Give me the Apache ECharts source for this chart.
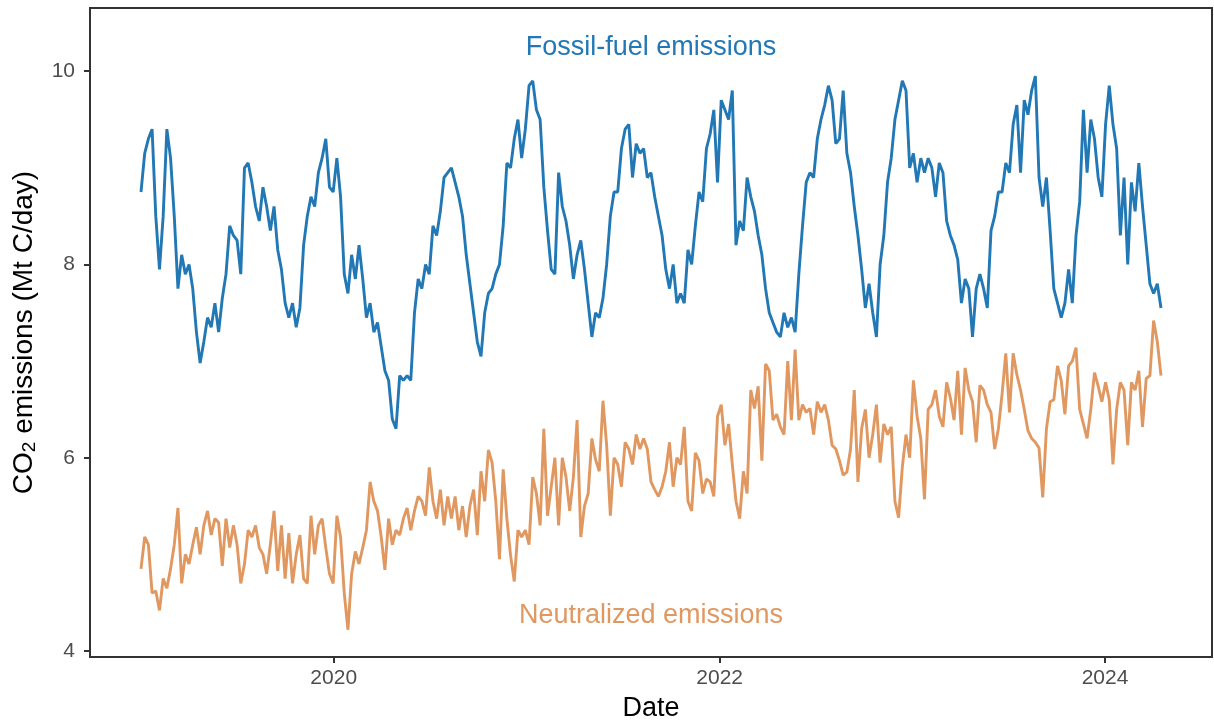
<!DOCTYPE html>
<html>
<head>
<meta charset="utf-8">
<title>CO2 emissions</title>
<script src="https://cdn.jsdelivr.net/npm/echarts@6/dist/echarts.min.js"></script>
<style>
  html, body { margin: 0; padding: 0; background: #fff; }
  #chart { width: 1214px; height: 727px; }
</style>
</head>
<body>
<div id="chart"></div>
<script>
// weekly readings, first one on 2019-01-01
const startDate = [2019, 0, 1]
const stepDays = 7

// Mt C/day
const fossilFuel = [
  8.75, 9.15, 9.3, 9.4, 8.5, 7.95, 8.5, 9.4, 9.1, 8.5,
  7.75, 8.1, 7.9, 8.0, 7.75, 7.3, 6.98, 7.2, 7.45, 7.35,
  7.6, 7.3, 7.65, 7.9, 8.4, 8.3, 8.25, 7.9, 9.0, 9.05,
  8.85, 8.6, 8.45, 8.8, 8.6, 8.35, 8.6, 8.15, 7.95, 7.6,
  7.45, 7.6, 7.35, 7.55, 8.2, 8.5, 8.7, 8.6, 8.95, 9.1,
  9.3, 8.8, 8.75, 9.1, 8.7, 7.9, 7.7, 8.1, 7.85, 8.2,
  7.85, 7.45, 7.6, 7.3, 7.4, 7.15, 6.9, 6.8, 6.4, 6.3,
  6.85, 6.8, 6.85, 6.8, 7.5, 7.85, 7.75, 8.0, 7.9, 8.4,
  8.3, 8.55, 8.9, 8.95, 9.0, 8.85, 8.7, 8.5, 8.1, 7.8,
  7.5, 7.2, 7.05, 7.5, 7.7, 7.75, 7.9, 8.0, 8.4, 9.05,
  9.0, 9.3, 9.5, 9.1, 9.4, 9.85, 9.9, 9.6, 9.5, 8.8,
  8.35, 7.95, 7.9, 8.95, 8.6, 8.45, 8.2, 7.85, 8.1, 8.25,
  7.95, 7.6, 7.25, 7.5, 7.45, 7.65, 8.0, 8.5, 8.75, 8.75,
  9.2, 9.4, 9.45, 8.9, 9.25, 9.15, 9.2, 8.9, 8.95, 8.7,
  8.5, 8.3, 7.95, 7.75, 8.0, 7.6, 7.7, 7.6, 8.15, 8.0,
  8.4, 8.75, 8.65, 9.2, 9.35, 9.6, 8.85, 9.7, 9.6, 9.5,
  9.8, 8.2, 8.45, 8.35, 8.9, 8.7, 8.55, 8.3, 8.1, 7.75,
  7.5, 7.4, 7.3, 7.25, 7.5, 7.35, 7.45, 7.3, 7.9, 8.4,
  8.85, 8.95, 8.9, 9.3, 9.5, 9.65, 9.85, 9.7, 9.25, 9.3,
  9.8, 9.15, 8.95, 8.6, 8.3, 7.95, 7.55, 7.8, 7.5, 7.25,
  8.0, 8.3, 8.85, 9.1, 9.5, 9.7, 9.9, 9.8, 9.0, 9.15,
  8.85, 9.1, 8.95, 9.1, 9.0, 8.7, 9.05, 8.95, 8.45, 8.3,
  8.2, 8.05, 7.6, 7.85, 7.75, 7.25, 7.75, 7.9, 7.75, 7.55,
  8.35, 8.5, 8.75, 8.75, 9.05, 8.95, 9.45, 9.65, 8.95, 9.7,
  9.55, 9.8, 9.95, 8.9, 8.6, 8.9, 8.35, 7.75, 7.6, 7.45,
  7.6, 7.95, 7.6, 8.3, 8.65, 9.6, 8.95, 9.5, 9.3, 8.9,
  8.7, 9.45, 9.85, 9.45, 9.2, 8.3, 8.9, 8.0, 8.85, 8.55,
  9.05, 8.6, 8.2, 7.8, 7.7, 7.8, 7.55
]

const neutralized = [
  4.85, 5.18, 5.1, 4.6, 4.62, 4.42, 4.75, 4.65, 4.85, 5.1,
  5.48, 4.7, 5.0, 4.9, 5.1, 5.28, 5.0, 5.3, 5.45, 5.2,
  5.37, 5.33, 4.88, 5.37, 5.07, 5.3, 5.1, 4.7, 4.9, 5.25,
  5.18, 5.3, 5.07, 5.0, 4.8, 5.1, 5.45, 4.83, 5.3, 4.75,
  5.22, 4.7, 5.0, 5.2, 4.75, 4.7, 5.4, 5.0, 5.3, 5.37,
  5.07, 4.8, 4.7, 5.4, 5.18, 4.6, 4.22, 4.8, 5.03, 4.9,
  5.07, 5.25, 5.75, 5.55, 5.45, 5.18, 4.84, 5.37, 5.1, 5.25,
  5.2, 5.37, 5.48, 5.25, 5.45, 5.6, 5.55, 5.4, 5.9, 5.55,
  5.37, 5.67, 5.3, 5.6, 5.37, 5.6, 5.25, 5.5, 5.18, 5.5,
  5.67, 5.2, 5.86, 5.55, 6.08, 5.95, 5.55, 4.95, 5.88, 5.37,
  4.99, 4.72, 5.25, 5.18, 5.25, 5.1, 5.8, 5.63, 5.3, 6.3,
  5.4, 5.7, 6.0, 5.3, 6.0, 5.8, 5.45, 5.8, 6.39, 5.18,
  5.5, 5.63, 6.2, 5.98, 5.86, 6.59, 6.13, 5.4, 6.0, 5.93,
  5.7, 6.16, 6.09, 5.93, 6.24, 6.09, 6.2, 6.09, 5.75, 5.67,
  5.6, 5.7, 5.86, 6.16, 5.7, 6.0, 5.93, 6.32, 5.55, 5.45,
  6.05, 5.97, 5.63, 5.78, 5.75, 5.6, 6.43, 6.55, 6.13, 6.35,
  5.93, 5.55, 5.37, 5.86, 5.63, 6.7, 6.51, 6.74, 5.97, 6.97,
  6.9, 6.39, 6.45, 6.32, 6.24, 7.0, 6.39, 7.12, 6.39, 6.55,
  6.47, 6.51, 6.24, 6.58, 6.47, 6.55, 6.39, 6.13, 6.09, 5.97,
  5.82, 5.85, 6.09, 6.7, 5.75, 6.3, 6.5, 6.0, 6.24, 6.55,
  5.95, 6.35, 6.24, 6.32, 5.55, 5.38, 5.9, 6.24, 6.0, 6.8,
  6.43, 6.2, 5.57, 6.5, 6.55, 6.7, 6.43, 6.32, 6.78, 6.62,
  6.39, 6.9, 6.24, 6.93, 6.7, 6.58, 6.16, 6.75, 6.7, 6.55,
  6.47, 6.09, 6.3, 6.66, 7.08, 6.47, 7.08, 6.86, 6.7, 6.5,
  6.28, 6.2, 6.16, 6.1, 5.59, 6.3, 6.58, 6.6, 6.95, 6.8,
  6.45, 6.95, 7.0, 7.14, 6.5, 6.35, 6.2, 6.5, 6.88, 6.74,
  6.58, 6.78, 6.6, 5.93, 6.5, 6.78, 6.7, 6.13, 6.78, 6.7,
  6.9, 6.32, 6.82, 6.85, 7.42, 7.2, 6.85
]

const xTickYears = [2020, 2022, 2024]
const yTicks = [4, 6, 8, 10]

// text placed in the panel (y in data units, x = middle of the date range)
const fossilLabel = 'Fossil-fuel emissions'
const neutralLabel = 'Neutralized emissions'
const fossilLabelY = 10.24
const neutralLabelY = 4.37

const blue = '#2178b5'
const orange = '#e09860'
const font = '"Liberation Sans", Arial, Helvetica, sans-serif'

const dates = fossilFuel.map((_, i) =>
  new Date(startDate[0], startDate[1], startDate[2] + i * stepDays).getTime())
const xTicks = xTickYears.map(y => new Date(y, 0, 1).getTime())

const first = dates[0]
const last = dates[dates.length - 1]
const pad = (last - first) * 0.05 // same padding as the original plot
const mid = (first + last) / 2

const chart = echarts.init(document.getElementById('chart'))

chart.setOption({
  animation: false,
  textStyle: { fontFamily: font },
  grid: {
    left: 90, right: 2, top: 8, bottom: 65,
    show: true, borderColor: '#333', borderWidth: 2, backgroundColor: '#fff'
  },
  xAxis: {
    // dates kept as timestamps on a plain value axis so the ticks can be set by hand
    type: 'value',
    min: first - pad,
    max: last + pad,
    name: 'Date',
    nameLocation: 'middle',
    nameGap: 38,
    nameTextStyle: { fontSize: 27, color: '#000', fontFamily: font },
    axisLine: { lineStyle: { color: '#333', width: 2 } },
    axisTick: {
      length: 6,
      lineStyle: { color: '#333', width: 2 },
      customValues: xTicks
    },
    axisLabel: {
      fontSize: 21, color: '#4d4d4d', margin: 11,
      customValues: xTicks,
      formatter: v => String(new Date(v).getFullYear())
    },
    splitLine: { show: false }
  },
  yAxis: {
    type: 'value',
    min: 3.938,
    max: 10.654,
    name: '{a|CO}{b|2}{a| emissions (Mt C/day)}',
    nameLocation: 'middle',
    nameGap: 51,
    nameTextStyle: {
      color: '#000',
      rich: {
        a: { fontSize: 28, color: '#000', fontFamily: font, lineHeight: 30 },
        b: { fontSize: 19, color: '#000', fontFamily: font, lineHeight: 30, verticalAlign: 'bottom', padding: [10, 0, 0, 0] }
      }
    },
    axisLine: { show: true, lineStyle: { color: '#333', width: 2 } },
    axisTick: {
      show: true, length: 6,
      lineStyle: { color: '#333', width: 2 },
      customValues: yTicks
    },
    axisLabel: {
      fontSize: 21, color: '#4d4d4d', margin: 15,
      customValues: yTicks
    },
    splitLine: { show: false }
  },
  series: [
    {
      name: fossilLabel,
      type: 'line',
      data: dates.map((d, i) => [d, fossilFuel[i]]),
      showSymbol: false,
      lineStyle: { color: blue, width: 2.9 },
      itemStyle: { color: blue }
    },
    {
      name: neutralLabel,
      type: 'line',
      data: dates.map((d, i) => [d, neutralized[i]]),
      showSymbol: false,
      lineStyle: { color: orange, width: 2.9 },
      itemStyle: { color: orange }
    },
    {
      type: 'scatter',
      silent: true,
      symbolSize: 0,
      itemStyle: { opacity: 1 },
      data: [
        { value: [mid, fossilLabelY], label: { formatter: fossilLabel, color: blue } },
        { value: [mid, neutralLabelY], label: { formatter: neutralLabel, color: orange } }
      ],
      label: { show: true, position: 'inside', fontSize: 27, fontFamily: font, opacity: 1 }
    }
  ]
})

window.addEventListener('resize', () => chart.resize())
</script>
</body>
</html>
